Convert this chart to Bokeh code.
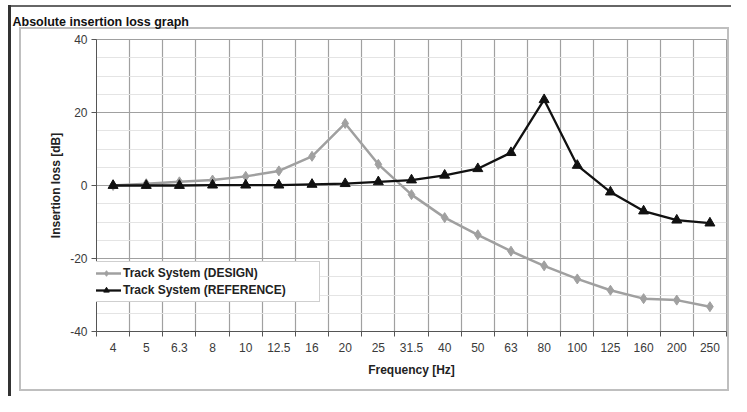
from bokeh.plotting import figure
from bokeh.models import (Range1d, FixedTicker, Legend, LegendItem, ColumnDataSource)
from bokeh.embed import file_html
from bokeh.resources import INLINE

# ---- data ----
freq_labels = ["4", "5", "6.3", "8", "10", "12.5", "16", "20", "25", "31.5",
               "40", "50", "63", "80", "100", "125", "160", "200", "250"]
design = [0.0, 0.5, 1.0, 1.5, 2.5, 4.0, 8.0, 17.0, 5.8, -2.5, -8.8, -13.5,
          -18.0, -22.0, -25.6, -28.7, -31.0, -31.4, -33.2]
reference = [0.0, 0.0, 0.0, 0.1, 0.1, 0.1, 0.3, 0.5, 1.0, 1.5, 2.8, 4.6,
             9.0, 23.5, 5.5, -1.8, -7.0, -9.5, -10.3]
y_ticks = [-40, -20, 0, 20, 40]
y_tick_labels = ["-40", "-20", "0", "20", "40"]
y_minor = [-35, -30, -25, -15, -10, -5, 5, 10, 15, 25, 30, 35]

idx = list(range(len(freq_labels)))
bounds = [i - 0.5 for i in range(len(freq_labels) + 1)]

FONT = "Liberation Sans"
BOX = "#bfbfbf"

p = figure(width=731, height=396, output_backend="svg", toolbar_location=None,
           x_range=Range1d(-0.5, len(freq_labels) - 0.5),
           y_range=Range1d(-40, 40),
           min_border_left=96, min_border_right=5,
           min_border_top=39, min_border_bottom=65)
p.background_fill_color = "#ffffff"
p.border_fill_color = None
p.outline_line_color = "#a0a0a0"

# page decorations: dark left/top rules and light frame box around the chart area
p.styles = {
    "background": (
        "linear-gradient(#333,#333) 8px 5px / 3px 100% no-repeat, "
        "linear-gradient(#666,#666) 8px 5px / 100% 2px no-repeat, "
        f"linear-gradient({BOX},{BOX}) 19px 27px / 710px 2px no-repeat, "
        f"linear-gradient({BOX},{BOX}) 19px 389px / 710px 2px no-repeat, "
        f"linear-gradient({BOX},{BOX}) 19px 27px / 2px 364px no-repeat, "
        f"linear-gradient({BOX},{BOX}) 727px 27px / 2px 364px no-repeat, "
        "#ffffff"
    )
}

# title
p.title.text = "Absolute insertion loss graph"
p.title.align = "left"
p.title.offset = -84
p.title.standoff = 22
p.title.vertical_align = "bottom"
p.title.text_font = FONT
p.title.text_font_size = "12.5px"
p.title.text_font_style = "bold"
p.title.text_color = "#111111"

# axes
xax = p.below[0]
yax = p.left[0]
xax.ticker = FixedTicker(ticks=idx, minor_ticks=bounds)
xax.major_label_overrides = {i: l for i, l in zip(idx, freq_labels)}
xax.major_tick_out = 0
xax.major_tick_in = 0
xax.minor_tick_out = 5
xax.minor_tick_in = 0
xax.major_label_standoff = 6
xax.axis_label = "Frequency [Hz]"
xax.axis_label_standoff = 8

yax.ticker = FixedTicker(ticks=y_ticks, minor_ticks=[])
yax.major_label_overrides = {t: l for t, l in zip(y_ticks, y_tick_labels)}
yax.major_tick_out = 5
yax.major_tick_in = 0
yax.major_label_standoff = 4
yax.axis_label = "Insertion loss [dB]"
yax.axis_label_standoff = 4

for ax in (xax, yax):
    ax.axis_line_color = "#555555"
    ax.major_tick_line_color = "#555555"
    ax.minor_tick_line_color = "#555555"
    ax.major_label_text_font = FONT
    ax.major_label_text_font_size = "12px"
    ax.major_label_text_color = "#3a3a3a"
    ax.axis_label_text_font = FONT
    ax.axis_label_text_font_size = "12px"
    ax.axis_label_text_font_style = "bold"
    ax.axis_label_text_color = "#222222"

# grids
p.xgrid.ticker = FixedTicker(ticks=bounds)
p.xgrid.grid_line_color = "#a0a0a0"
p.xgrid.grid_line_width = 1.2
p.ygrid.ticker = FixedTicker(ticks=y_ticks, minor_ticks=y_minor)
p.ygrid.grid_line_color = "#a0a0a0"
p.ygrid.grid_line_width = 1.2
p.ygrid.minor_grid_line_color = "#e4e4e4"

src = ColumnDataSource(dict(x=idx, d=design, r=reference))
l1 = p.line("x", "d", source=src, line_color="#a0a0a0", line_width=2.5)
m1 = p.scatter("x", "d", source=src, marker="diamond", size=10,
               fill_color="#a0a0a0", line_color="#a0a0a0")
l2 = p.line("x", "r", source=src, line_color="#111111", line_width=2.3)
m2 = p.scatter("x", "r", source=src, marker="triangle", size=10,
               fill_color="#111111", line_color="#111111")

legend = Legend(items=[LegendItem(label="Track System (DESIGN)", renderers=[l1, m1]),
                       LegendItem(label="Track System (REFERENCE)", renderers=[l2, m2])],
                location=(-10, 29), padding=4, margin=0, spacing=3,
                glyph_width=30, glyph_height=14, label_height=14, label_width=192,
                label_standoff=2,
                border_line_color="#a0a0a0", border_line_width=1.2,
                background_fill_color="#ffffff", background_fill_alpha=1,
                label_text_font=FONT, label_text_font_size="12px",
                label_text_font_style="bold", label_text_color="#222222")
p.add_layout(legend)

open("out.html", "w").write(file_html(p, INLINE))
